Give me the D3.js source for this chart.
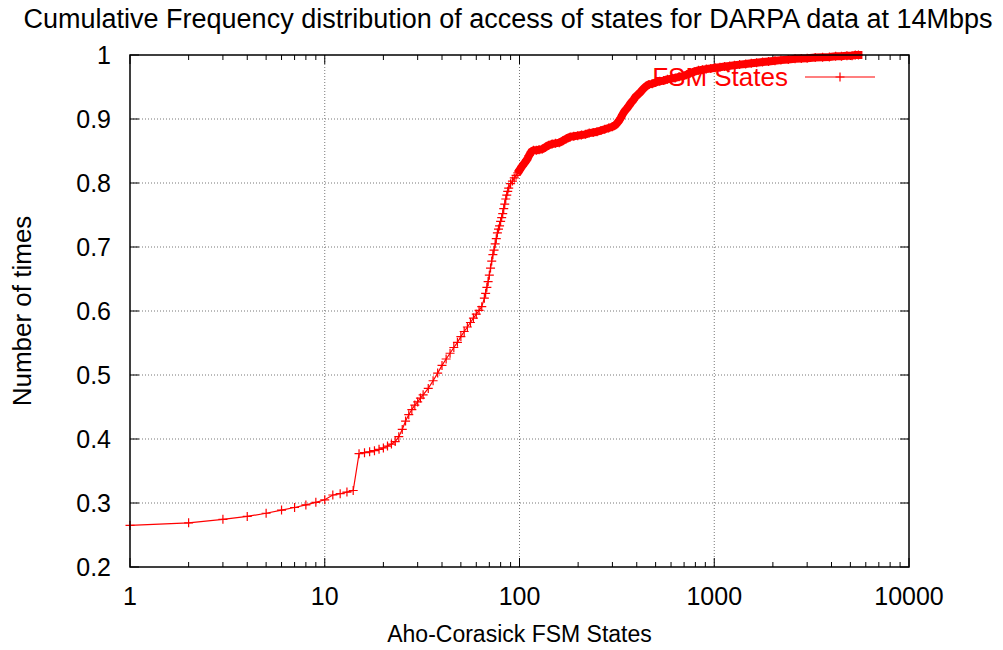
<!DOCTYPE html>
<html>
<head>
<meta charset="utf-8">
<title>Cumulative Frequency distribution</title>
<script src="https://d3js.org/d3.v7.min.js"></script>
<style>
  body { margin: 0; background: #fff; }
  text { font-family: "Liberation Sans", Arial, sans-serif; fill: #000; }
  .grid line { stroke: #777; stroke-width: 1; stroke-dasharray: 1,2; }
</style>
</head>
<body>
<div id="chart"></div>
<script>
// cumulative frequency
var states = [1,2,3,4,5,6,7,8,9,10,11,12,13,14,15,16,17,18,19,20,21,22,23,24,25,26,27,28,29,30,31,32,34,36,38,40,42,44,46,48,50,52,54,56,58,60,62,64,66,67,68,69,70,71,72,73,74,75,76,77,78,79,80,81,82,83,84,85,86,87,88,90,92,94,96,98,100,103,106,109,112,115,118,122,126,131,136,141,147,153,160,167,174,182,190,199,208,218,228,239,250,262,274,287,300,312,322,330,338,346,355,365,375,385,395,405,418,432,446,462,480,500,525,550,575,600,630,660,690,720,755,790,830,870,910,960,1010,1070,1130,1200,1270,1350,1450,1550,1650,1770,1900,2050,2200,2400,2600,2800,3000,3300,3600,3900,4200,4500,4800,5100,5300,5500];
var cumFreq = [0.265,0.269,0.2745,0.279,0.284,0.289,0.293,0.297,0.301,0.305,0.3125,0.3145,0.317,0.3195,0.377,0.3786,0.380,0.3817,0.3838,0.386,0.389,0.392,0.396,0.4036,0.415,0.428,0.438,0.446,0.453,0.458,0.464,0.469,0.479,0.491,0.503,0.515,0.525,0.534,0.543,0.551,0.560,0.568,0.575,0.582,0.589,0.595,0.601,0.6067,0.620,0.6276,0.637,0.646,0.656,0.667,0.678,0.688,0.695,0.705,0.713,0.722,0.728,0.733,0.740,0.746,0.752,0.760,0.767,0.775,0.781,0.787,0.792,0.799,0.803,0.808,0.812,0.816,0.820,0.826,0.831,0.836,0.843,0.849,0.851,0.851,0.852,0.853,0.856,0.859,0.861,0.862,0.863,0.866,0.869,0.872,0.873,0.874,0.875,0.876,0.878,0.879,0.880,0.882,0.884,0.886,0.888,0.891,0.896,0.901,0.907,0.912,0.916,0.921,0.926,0.930,0.935,0.938,0.942,0.947,0.951,0.954,0.955,0.957,0.959,0.960,0.962,0.963,0.964,0.966,0.967,0.969,0.972,0.974,0.976,0.977,0.978,0.979,0.980,0.981,0.982,0.983,0.984,0.985,0.986,0.987,0.988,0.989,0.990,0.991,0.992,0.993,0.994,0.9945,0.995,0.996,0.9965,0.997,0.998,0.998,0.999,0.999,1.0,1.0];

var xTicks = [1, 10, 100, 1000, 10000];
var yTicks = [0.2, 0.3, 0.4, 0.5, 0.6, 0.7, 0.8, 0.9, 1];
var denseFrom = 100; // above this the markers merge into a solid band

var outerWidth = 1003, outerHeight = 650;
var margin = { top: 55, right: 94, bottom: 83, left: 130 };
var width = outerWidth - margin.left - margin.right;
var height = outerHeight - margin.top - margin.bottom;

var data = states.map(function(s, i) { return { x: s, y: cumFreq[i] }; });

var svg = d3.select("#chart").append("svg")
    .attr("width", outerWidth)
    .attr("height", outerHeight);

var g = svg.append("g")
    .attr("transform", "translate(" + margin.left + "," + margin.top + ")");

var x = d3.scaleLog().domain([1, 10000]).range([0, width]);
var y = d3.scaleLinear().domain([0.2, 1]).range([height, 0]);

// grid
var grid = g.append("g").attr("class", "grid");
grid.selectAll(".gx").data(xTicks.slice(1, -1)).enter().append("line")
    .attr("x1", d => x(d)).attr("x2", d => x(d))
    .attr("y1", 0).attr("y2", height);
grid.selectAll(".gy").data(yTicks.slice(1, -1)).enter().append("line")
    .attr("x1", 0).attr("x2", width)
    .attr("y1", d => y(d)).attr("y2", d => y(d));

// minor log ticks
var minor = [];
for (var p = 1; p < 10000; p *= 10)
  for (var m = 2; m < 10; m++) minor.push(p * m);

var ticks = g.append("g").attr("stroke", "#000").attr("stroke-width", 1);
xTicks.forEach(function(d) {
  ticks.append("line").attr("x1", x(d)).attr("x2", x(d)).attr("y1", height).attr("y2", height - 9);
  ticks.append("line").attr("x1", x(d)).attr("x2", x(d)).attr("y1", 0).attr("y2", 9);
});
minor.forEach(function(d) {
  ticks.append("line").attr("x1", x(d)).attr("x2", x(d)).attr("y1", height).attr("y2", height - 5);
  ticks.append("line").attr("x1", x(d)).attr("x2", x(d)).attr("y1", 0).attr("y2", 5);
});
yTicks.forEach(function(d) {
  ticks.append("line").attr("x1", 0).attr("x2", 9).attr("y1", y(d)).attr("y2", y(d));
  ticks.append("line").attr("x1", width).attr("x2", width - 9).attr("y1", y(d)).attr("y2", y(d));
});

// tick labels
g.selectAll(".xl").data(xTicks).enter().append("text")
    .attr("x", d => x(d)).attr("y", height + 38)
    .attr("text-anchor", "middle")
    .style("font-size", "25px")
    .text(d => d);
g.selectAll(".yl").data(yTicks).enter().append("text")
    .attr("x", -19).attr("y", d => y(d) + 9)
    .attr("text-anchor", "end")
    .style("font-size", "25px")
    .text(d => d);

// data line
var line = d3.line().x(d => x(d.x)).y(d => y(d.y));
g.append("path")
    .datum(data)
    .attr("fill", "none")
    .attr("stroke", "#ff0000")
    .attr("stroke-width", 1.2)
    .attr("d", line);

// dense band where markers pile up
g.append("path")
    .datum(data.filter(d => d.x >= denseFrom))
    .attr("fill", "none")
    .attr("stroke", "#ff0000")
    .attr("stroke-width", 8)
    .attr("stroke-linejoin", "round")
    .attr("stroke-linecap", "square")
    .attr("d", line);

// + markers
var plus = "M-4.5,0H4.5M0,-4.5V4.5";
g.selectAll(".pt").data(data).enter().append("path")
    .attr("transform", d => "translate(" + x(d.x) + "," + y(d.y) + ")")
    .attr("d", plus)
    .attr("stroke", "#ff0000")
    .attr("stroke-width", 1.2)
    .attr("fill", "none");

// frame
g.append("rect")
    .attr("width", width).attr("height", height)
    .attr("fill", "none").attr("stroke", "#000").attr("stroke-width", 1.5);

// legend
var leg = g.append("g").attr("transform", "translate(" + (width - 34) + ",22)");
leg.append("text").attr("x", -87).attr("y", 9)
    .attr("text-anchor", "end")
    .style("fill", "#ff0000").style("font-size", "26px")
    .text("FSM States");
leg.append("line").attr("x1", -70).attr("x2", 0).attr("y1", 0).attr("y2", 0)
    .attr("stroke", "#ff0000").attr("stroke-width", 1.2);
leg.append("path").attr("transform", "translate(-35,0)").attr("d", plus)
    .attr("stroke", "#ff0000").attr("stroke-width", 1.2);

// titles
svg.append("text")
    .attr("x", 508).attr("y", 28)
    .attr("text-anchor", "middle")
    .style("font-size", "27px")
    .text("Cumulative Frequency distribution of access of states for DARPA data at 14Mbps");
svg.append("text")
    .attr("x", margin.left + width / 2).attr("y", 642)
    .attr("text-anchor", "middle")
    .style("font-size", "23px")
    .text("Aho-Corasick FSM States");
svg.append("text")
    .attr("transform", "translate(31," + (margin.top + height / 2) + ") rotate(-90)")
    .attr("text-anchor", "middle")
    .style("font-size", "26px")
    .text("Number of times");
</script>
</body>
</html>
